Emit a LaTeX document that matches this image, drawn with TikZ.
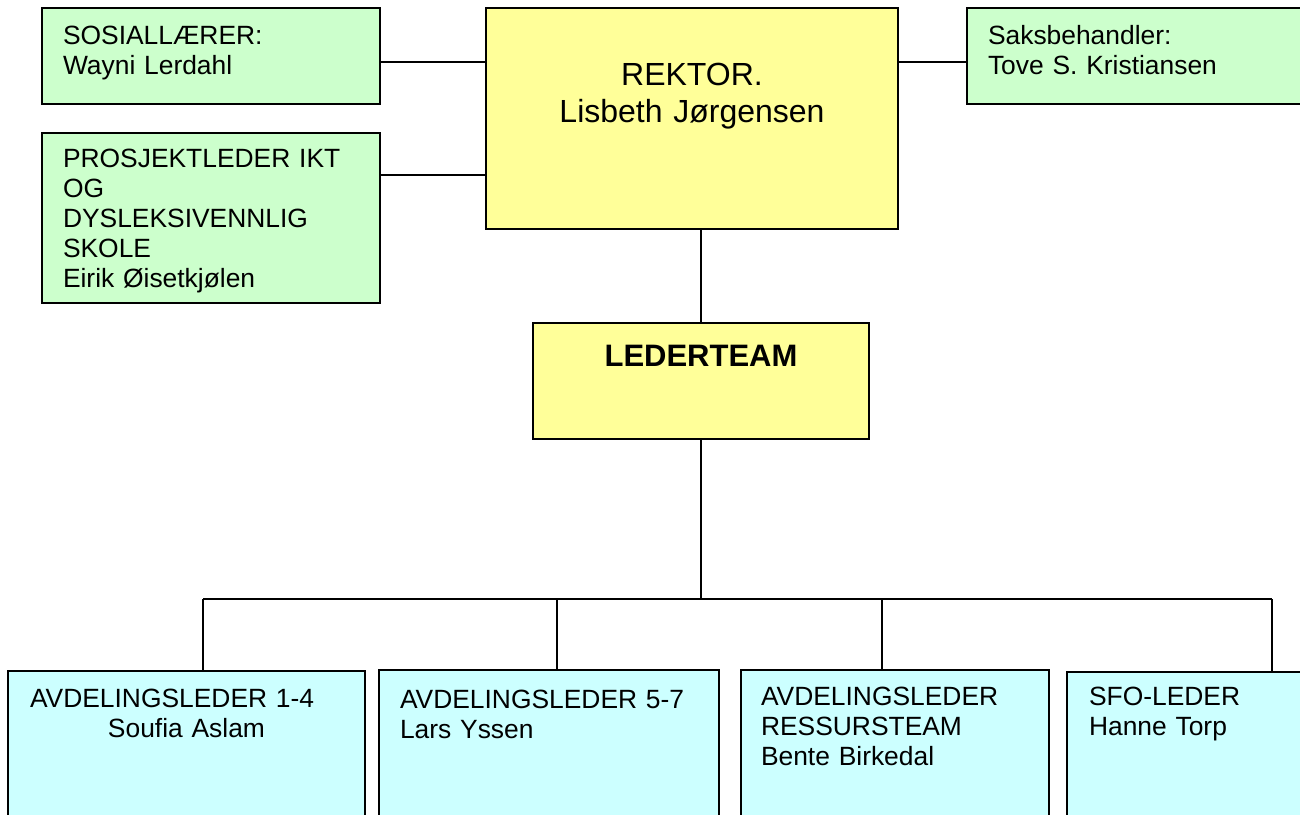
\documentclass[tikz,border=0pt]{standalone}
\usepackage{fontspec}
\setmainfont{Liberation Sans}
\usepackage{tikz}
\usetikzlibrary{positioning}

\definecolor{boxgreen}{HTML}{CCFFCC}
\definecolor{boxyellow}{HTML}{FFFF99}
\definecolor{boxcyan}{HTML}{CCFFFF}

\begin{document}
\begin{tikzpicture}[
            x = 0.5pt, y = -0.5pt, % one unit per pixel, y downwards
            line width = 1pt, % line style
            every node/.style = {inner sep = 0pt, outer sep = 0pt}
        ]

        \tikzstyle{orgbox}=[
            draw = black,
            line width = 1pt,
            anchor = north west
        ]
        \tikzstyle{staff}=[orgbox, fill = boxgreen]
        \tikzstyle{head}=[orgbox, fill = boxyellow]
        \tikzstyle{dept}=[orgbox, fill = boxcyan, minimum height = 80pt]
        \tikzstyle{boxtext}=[
            anchor = base west,
            align = left,
            text width = 150pt, % first line is the baseline
            font = \fontsize{13.2}{15}\selectfont
        ]

        \clip (0,0) rectangle (1300,814);

	% REKTOR AND STAFF
        \node[head, minimum width = 206pt, minimum height = 110.5pt] (rektor) at (486,8) {};
        \node[staff, minimum width = 169pt, minimum height = 48pt] (sosial) at (42,8) {};
        \node[staff, minimum width = 169pt, minimum height = 85pt] (prosjekt) at (42,133) {};
        \node[staff, minimum width = 180pt, minimum height = 48pt] (saks) at (967,8) {};

        \node[anchor = base, align = center, text width = 200pt, font = \fontsize{16}{18.5}\selectfont] (rektor-txt) at (692,85) {REKTOR.\\Lisbeth Jørgensen};
        \node[boxtext] (sosial-txt) at (63,44) {SOSIALLÆRER:\\Wayni Lerdahl};
        \node[boxtext] (prosjekt-txt) at (63,167) {PROSJEKTLEDER IKT\\OG\\DYSLEKSIVENNLIG\\SKOLE\\Eirik Øisetkjølen};
        \node[boxtext] (saks-txt) at (988,44) {Saksbehandler:\\Tove S. Kristiansen};

        \draw ([yshift=-3pt]sosial.east) -- ([yshift=-3pt]sosial.east -| rektor.west);
        \draw ([yshift=21.5pt]prosjekt.east) -- ([yshift=21.5pt]prosjekt.east -| rektor.west);
        \draw ([yshift=-3pt]saks.west) -- ([yshift=-3pt]saks.west -| rektor.east);

	% LEDERTEAM
        \node[head, minimum width = 168pt, minimum height = 58pt] (lederteam) at (533,323) {};
        \node[anchor = base, font = \fontsize{15.5}{18}\selectfont\bfseries] (lederteam-txt) at (701,366) {LEDERTEAM};

        \draw (lederteam.north |- rektor.south) -- (lederteam.north);

	% AVDELINGER
        \node[dept, minimum width = 178.5pt] (avd14) at (8,671) {};
        \node[dept, minimum width = 170pt] (avd57) at (379,670) {};
        \node[dept, minimum width = 154pt] (ressurs) at (741,670) {};
        \node[dept, minimum width = 130pt] (sfo) at (1067,672) {};

        \node[boxtext] (avd14-txt) at (30,707) {AVDELINGSLEDER 1-4\\\hspace*{39pt}Soufia Aslam};
        \node[boxtext] (avd57-txt) at (400,708) {AVDELINGSLEDER 5-7\\Lars Yssen};
        \node[boxtext] (ressurs-txt) at (761,705) {AVDELINGSLEDER\\RESSURSTEAM\\Bente Birkedal};
        \node[boxtext] (sfo-txt) at (1089,705) {SFO-LEDER\\Hanne Torp};

        \coordinate (b1) at (203,599);
        \coordinate (b2) at (557,599);
        \coordinate (b3) at (882,599);
        \coordinate (b4) at (1272,599);
        \coordinate (bus) at (lederteam.south |- b1);

        \draw (lederteam.south) -- (bus);
        \draw (b1) -- (b4);
        \draw (b1) -- (b1 |- avd14.north);
        \draw (b2) -- (b2 |- avd57.north);
        \draw (b3) -- (b3 |- ressurs.north);
        \draw (b4) -- (b4 |- sfo.north);

  \end{tikzpicture}
\end{document}
